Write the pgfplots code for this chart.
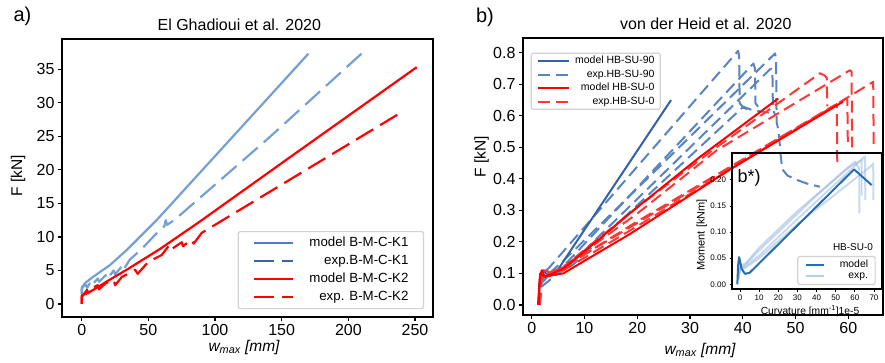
\documentclass[border=0pt]{standalone}
\usepackage{pgfplots}
\pgfplotsset{compat=1.18}
\usepackage{fontspec}
\setmainfont{Liberation Sans}
\definecolor{blueA}{RGB}{117,160,212}
\definecolor{blueAL1}{RGB}{80,125,188}
\definecolor{blueAL2}{RGB}{58,100,165}
\definecolor{blueM}{RGB}{52,98,168}
\definecolor{blueE}{RGB}{88,132,192}
\definecolor{redM}{RGB}{255,0,0}
\definecolor{redE}{RGB}{255,55,55}
\definecolor{insM}{RGB}{38,110,175}
\definecolor{insE}{RGB}{150,182,222}
\definecolor{legframe}{RGB}{210,210,210}
\newcommand{\fs}[1]{\fontsize{#1}{#1}\selectfont}
\begin{document}
\begin{tikzpicture}
\path[use as bounding box] (0,0) rectangle (885pt,362pt);
\pgfplotsset{
  myaxis/.style={scale only axis, axis line style={line width=2pt},
    tick align=outside, major tick length=4pt, xtick pos=bottom, ytick pos=left,
    every tick/.style={line width=1.2pt, black},
    ticklabel style={font=\fs{16}},
    /pgf/number format/assume math mode=true,
    legend cell align=right,
    every axis plot/.append style={line join=round}},
}
% ---------------- panel a
\begin{axis}[myaxis, at={(62pt,45pt)}, anchor=south west, width=371pt, height=278pt,
  xmin=-14.8, xmax=263.5, ymin=-1.94, ymax=39.5,
  xtick={0,50,100,150,200,250}, ytick={0,5,10,15,20,25,30,35},
  legend style={at={(0.976,0.028)}, anchor=south east, draw=legframe, rounded corners=2pt,
    line width=1.2pt, fill=white, font=\fs{13.3}, inner xsep=15pt, inner ysep=5pt,
    row sep=5pt, nodes={inner sep=0pt, text height=10pt, text depth=3pt},
    /tikz/every odd column/.append style={column sep=15pt}},
  legend image code/.code={\draw[#1] (0pt,0pt) -- (39pt,0pt);}]
\addplot[blueA, line width=2.2pt, forget plot] coordinates {(0,1.5)(0,2.0)(0.5,2.6)(3,3.2)(8.7,4.07)(21.2,5.8)(33.7,8.04)(56.2,12.5)(170,37.3)};
\addplot[blueA, line width=2.2pt, dash pattern=on 20pt off 8pt, forget plot] coordinates {(0,1.6)(0,2.4)(3,2.9)(4,2.4)(7,3.4)(8,2.9)(12,3.8)(13,3.3)(18,4.3)(19,3.7)(24,5.0)(25,4.4)(30,5.6)(31,5.0)(36,6.6)(45,8.2)(55,10.3)(62,11.6)(63,12.5)(64,11.8)(70,12.6)(140,24.7)(212,37.7)};
\addplot[redM, line width=2.2pt, forget plot] coordinates {(0,0)(0,1.3)(3,1.5)(8.7,2.1)(20,3.5)(33.7,5.1)(58.7,8.2)(88.7,12.3)(150,21.0)(251.3,35.3)};
\addplot[redM, line width=2.2pt, dash pattern=on 20pt off 8pt, forget plot] coordinates {(0,0)(0,1.0)(2,1.6)(4,2.1)(5,1.6)(8,2.4)(12,2.8)(13,2.2)(18,3.1)(24,3.6)(25,2.8)(30,4.0)(40,5.1)(42,4.5)(50,6.3)(60,7.3)(65,8.6)(66,8.0)(75,9.2)(76,8.6)(82,9.6)(84,9.0)(90,10.6)(160,19.0)(240,28.6)};
\addlegendimage{blueAL1, line width=2.2pt}
\addlegendentry{model B-M-C-K1}
\addlegendimage{blueAL2, line width=2.2pt, dash pattern=on 20pt off 8pt}
\addlegendentry{exp.B-M-C-K1}
\addlegendimage{redM, line width=2.2pt}
\addlegendentry{model B-M-C-K2}
\addlegendimage{redM, line width=2.2pt, dash pattern=on 20pt off 8pt}
\addlegendentry{exp. B-M-C-K2}
\end{axis}
% ---------------- panel b
\begin{axis}[myaxis, at={(523pt,47pt)}, anchor=south west, width=360pt, height=277pt,
  xmin=-1.65, xmax=66.56, ymin=-0.032, ymax=0.847,
  xtick={0,10,20,30,40,50,60}, ytick={0,0.1,0.2,0.3,0.4,0.5,0.6,0.7,0.8},
  yticklabel style={/pgf/number format/.cd, fixed, fixed zerofill, precision=1},
  legend style={at={(0.0214,0.947)}, anchor=north west, draw=legframe, rounded corners=2pt,
    line width=1.2pt, fill=white, font=\fs{10.5}, inner xsep=5.8pt, inner ysep=2.5pt,
    row sep=3pt, nodes={inner sep=0pt, text height=8pt, text depth=2.5pt},
    /tikz/every odd column/.append style={column sep=5pt}},
  legend image code/.code={\draw[#1] (0pt,0pt) -- (31pt,0pt);}]
% exp HB-SU-90
\addplot[blueE, line width=2pt, dash pattern=on 12pt off 6pt, forget plot] coordinates {(1.3,0)(1.6,0.07)(2.2,0.1)(3.5,0.122)(39.1,0.806)(39.3,0.79)(39.4,0.64)(40.2,0.625)(41.4,0.618)};
\addplot[blueE, line width=2pt, dash pattern=on 12pt off 6pt, forget plot] coordinates {(1.4,0)(1.7,0.08)(2.5,0.09)(4,0.11)(6,0.14)(46.1,0.798)(46.3,0.78)(46.4,0.58)(46.8,0.55)(47.2,0.47)(47.5,0.43)(48.5,0.41)(50.5,0.395)(52.5,0.383)(54.6,0.375)};
\addplot[blueE, line width=2pt, dash pattern=on 12pt off 6pt, forget plot] coordinates {(1.5,0)(1.8,0.07)(3,0.09)(5,0.11)(7,0.14)(42,0.766)(42.3,0.75)(42.4,0.64)(43.6,0.613)};
\addplot[blueE, line width=2pt, dash pattern=on 12pt off 6pt, forget plot] coordinates {(1.5,0)(2,0.06)(3.5,0.08)(5,0.1)(8,0.14)(45.3,0.75)(45.6,0.745)(45.7,0.62)(46.2,0.60)};
\addplot[blueE, line width=2pt, dash pattern=on 12pt off 6pt, forget plot] coordinates {(1.4,0)(1.9,0.07)(3,0.09)(5,0.1)(8,0.13)(40.1,0.629)(41.5,0.62)(43,0.615)(45,0.61)};
% model HB-SU-90
\addplot[blueM, line width=2pt, forget plot] coordinates {(1.2,0)(1.4,0.06)(1.7,0.1)(2.2,0.11)(3,0.095)(4.5,0.1)(6.6,0.153)(26.4,0.65)};
% exp HB-SU-0
\addplot[redE, line width=2pt, dash pattern=on 12pt off 6pt, forget plot] coordinates {(1.4,0)(1.7,0.1)(2.5,0.11)(4,0.1)(6,0.12)(10,0.175)(20,0.31)(35,0.5)(54.6,0.735)(55.5,0.728)(55.9,0.72)(56,0.63)};
\addplot[redE, line width=2pt, dash pattern=on 12pt off 6pt, forget plot] coordinates {(1.4,0)(1.8,0.09)(3,0.1)(5,0.11)(8,0.145)(20,0.29)(35,0.49)(60.3,0.745)(60.6,0.74)(60.7,0.50)};
\addplot[redE, line width=2pt, dash pattern=on 12pt off 6pt, forget plot] coordinates {(1.5,0)(1.9,0.1)(3,0.09)(5,0.1)(8,0.13)(20,0.25)(64.7,0.708)(64.8,0.50)};
\addplot[redE, line width=2pt, dash pattern=on 12pt off 6pt, forget plot] coordinates {(1.5,0)(1.8,0.08)(3,0.1)(5,0.11)(8,0.14)(20,0.26)(57.5,0.635)(57.8,0.63)(57.9,0.44)};
\addplot[redE, line width=2pt, dash pattern=on 12pt off 6pt, forget plot] coordinates {(1.4,0)(1.7,0.09)(3,0.1)(6,0.12)(9,0.15)(20,0.265)(59.6,0.655)(59.8,0.65)(59.9,0.50)};
% model HB-SU-0
\addplot[redM, line width=2pt, forget plot] coordinates {(1.3,0)(1.5,0.08)(1.9,0.11)(2.5,0.09)(4,0.1)(6,0.115)(10,0.17)(20,0.31)(31.9,0.47)(46.7,0.655)};
\addplot[redM, line width=2pt, forget plot] coordinates {(1.3,0)(1.6,0.1)(2.5,0.09)(4,0.095)(6,0.1)(10,0.14)(18.6,0.225)(37.6,0.43)(59,0.645)};
\addlegendimage{blueM, line width=2pt}
\addlegendentry{model HB-SU-90}
\addlegendimage{blueE, line width=2pt, dash pattern=on 12pt off 6pt}
\addlegendentry{exp.HB-SU-90}
\addlegendimage{redM, line width=2pt}
\addlegendentry{model HB-SU-0}
\addlegendimage{redE, line width=2pt, dash pattern=on 12pt off 6pt}
\addlegendentry{exp.HB-SU-0}
\end{axis}
% ---------------- inset b*
\begin{axis}[myaxis, at={(732pt,72.7pt)}, anchor=south west, width=150pt, height=136.6pt,
  xmin=-4.18, xmax=74.2, ymin=-0.0096, ymax=0.252,
  major tick length=2.5pt, every tick/.style={line width=0.8pt, black},
  ticklabel style={font=\fs{8}},
  xtick={0,10,20,30,40,50,60,70}, ytick={0,0.05,0.1,0.15,0.2},
  yticklabel style={/pgf/number format/.cd, fixed, fixed zerofill, precision=2},
  legend style={at={(0.958,0.031)}, anchor=south east, draw=legframe, rounded corners=2pt,
    line width=1.2pt, fill=white, font=\fs{10.4}, inner xsep=7pt, inner ysep=4pt,
    row sep=2pt, nodes={inner sep=0pt, text height=7.5pt, text depth=1.5pt},
    /tikz/every odd column/.append style={column sep=15pt}},
  legend image code/.code={\draw[#1] (0pt,0pt) -- (18pt,0pt);}]
\addplot[insE, opacity=0.5, line width=2pt, forget plot] coordinates {(-1,0.01)(0,0.03)(2,0.035)(10,0.065)(20,0.1)(40,0.17)(60.1,0.235)(61.5,0.225)(62.3,0.224)(62.4,0.136)};
\addplot[insE, opacity=0.5, line width=2pt, forget plot] coordinates {(-1,0.01)(0,0.03)(3,0.035)(10,0.055)(30,0.125)(64.5,0.242)(65.3,0.245)(65.5,0.161)};
\addplot[insE, opacity=0.5, line width=2pt, forget plot] coordinates {(-1,0.01)(0,0.028)(3,0.032)(10,0.05)(30,0.115)(69,0.228)(69.6,0.232)(69.7,0.161)};
\addplot[insE, opacity=0.5, line width=2pt, forget plot] coordinates {(-1,0.01)(0,0.035)(3,0.04)(10,0.07)(30,0.14)(56,0.222)(63.5,0.238)(63.6,0.17)};
\addplot[insM, line width=2pt, forget plot] coordinates {(-1.4,0)(-1.0,0.035)(-0.5,0.052)(0,0.045)(0.8,0.03)(2.6,0.02)(5,0.022)(59.6,0.22)(68.8,0.19)};
\addlegendimage{insM, line width=2pt}
\addlegendentry{model}
\addlegendimage{insE!70, line width=2pt}
\addlegendentry{exp.}
\end{axis}
% ---------------- texts
\node[font=\fs{20}] at (22.5pt,345.5pt) {a)};
\node[font=\fs{20}] at (485pt,345pt) {b)};
\node[font=\fs{16}] at (239.3pt,337pt) {El Ghadioui et al. 2020};
\node[font=\fs{16}] at (705.8pt,338pt) {von der Heid et al. 2020};
\node[font=\fs{15.5}, rotate=90] at (18pt,186pt) {F [kN]};
\node[font=\fs{15.5}, rotate=90] at (481.7pt,205pt) {F [kN]};
\node[font=\fs{15.5}] at (244pt,15pt) {\itshape w\textsubscript{max} [mm]};
\node[font=\fs{15.5}] at (700pt,12pt) {\itshape w\textsubscript{max} [mm]};
\node[font=\fs{11}, rotate=90] at (701.7pt,127pt) {Moment [kNm]};
\node[font=\fs{10.3}] at (810pt,51pt) {Curvature [mm\textsuperscript{-1}]1e-5};
\node[font=\fs{18}] at (749pt,184pt) {b*)};
\node[font=\fs{10}] at (853pt,115pt) {HB-SU-0};
\end{tikzpicture}
\end{document}
